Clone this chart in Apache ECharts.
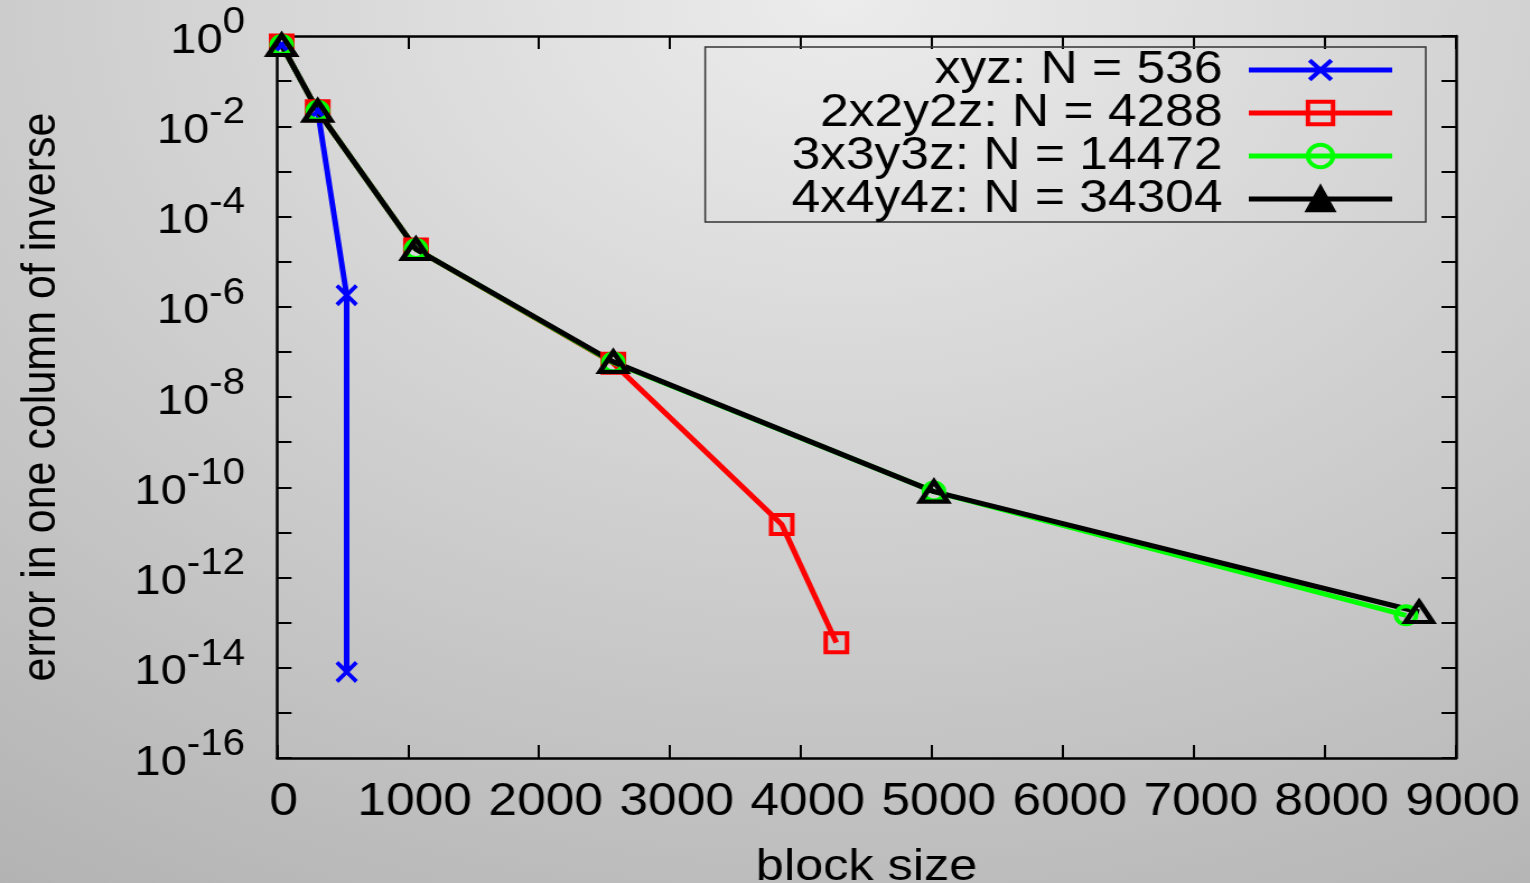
<!DOCTYPE html>
<html>
<head>
<meta charset="utf-8">
<script src="https://cdn.jsdelivr.net/npm/echarts@6/dist/echarts.min.js"></script>
<style>
html,body{margin:0;padding:0;width:1530px;height:883px;overflow:hidden;
background: radial-gradient(ellipse 1787px 1267px at 840px 0px, #ececec 0%, #a8a8a8 100%);}
/* the reference figure is stretched horizontally; reproduce that stretch */
#chart{width:1366px;height:883px;transform:scaleX(1.12);transform-origin:0 0;}
</style>
</head>
<body>
<div id="chart"></div>
<script>
// block size (x) and error (y) for each series
const xyzX   = [36, 311, 532, 532];
const xyzY   = [0.63, 0.022, 1.8e-6, 8.1e-15];
const r2X    = [36, 311, 1061, 2567, 3853, 4270];
const r2Y    = [0.63, 0.022, 1.9e-5, 5.6e-8, 1.5e-11, 3.6e-14];
const r3X    = [36, 311, 1061, 2567, 5015, 8618];
const r3Y    = [0.63, 0.022, 1.9e-5, 5.8e-8, 8.0e-11, 1.45e-13];
const r4X    = [36, 311, 1061, 2567, 5015, 8718];
const r4Y    = [0.63, 0.022, 1.9e-5, 6.0e-8, 8.0e-11, 1.72e-13];
const seriesNames = ['xyz: N = 536', '2x2y2z: N = 4288', '3x3y3z: N = 14472', '4x4y4z: N = 34304'];
const xTicks = [0, 1000, 2000, 3000, 4000, 5000, 6000, 7000, 8000, 9000];
const yTickExps = [0, -2, -4, -6, -8, -10, -12, -14, -16];
const xTitle = 'block size';
const yTitle = 'error in one column of inverse';

const FONT = "'Liberation Sans', Arial, Helvetica, sans-serif";
const pair = (xs, ys) => xs.map((x, i) => [x, ys[i]]);
const crossPath = 'path://M0,13L13,0L50,37L87,0L100,13L63,50L100,87L87,100L50,63L13,100L0,87L37,50Z';

const chart = echarts.init(document.getElementById('chart'), null, {renderer: 'canvas', width: 1366, height: 883});

const xAxisBase = {
  type: 'value', min: xTicks[0], max: xTicks[xTicks.length - 1], interval: 1000,
  splitLine: {show: false},
  axisLine: {show: true, onZero: false, lineStyle: {color: '#000', width: 2.5}},
  axisTick: {show: true, inside: true, length: 13, lineStyle: {color: '#000', width: 2}}
};
const yAxisBase = {
  type: 'log', logBase: 10, min: Math.pow(10, yTickExps[yTickExps.length - 1]), max: Math.pow(10, yTickExps[0]),
  interval: 1,
  splitLine: {show: false},
  axisLine: {show: true, onZero: false, lineStyle: {color: '#000', width: 2.5}},
  axisTick: {show: true, inside: true, length: 13, lineStyle: {color: '#000', width: 2}}
};

const option = {
  backgroundColor: 'transparent',
  animation: false,
  textStyle: {fontFamily: FONT},
  grid: {left: 247.3, top: 36, right: 66, bottom: 125, containLabel: false, outerBoundsMode: 'none'},
  xAxis: [
    Object.assign({}, xAxisBase, {
      position: 'bottom',
      name: xTitle, nameLocation: 'middle', nameGap: 87,
      nameTextStyle: {fontFamily: FONT, fontSize: 45, color: '#000'},
      axisLabel: {show: true, margin: 21, fontFamily: FONT, fontSize: 46, color: '#000', padding: [0, 0, 0, 12],
        formatter: v => xTicks.indexOf(v) >= 0 ? String(v) : ''}
    }),
    Object.assign({}, xAxisBase, {position: 'top', axisLabel: {show: false}})
  ],
  yAxis: [
    Object.assign({}, yAxisBase, {
      position: 'left',
      name: yTitle, nameLocation: 'middle', nameGap: 189, nameRotate: 90,
      nameTextStyle: {fontFamily: FONT, fontSize: 43, color: '#000'},
      axisLabel: {show: true, margin: 28.5, color: '#000', padding: [10, 0, 0, 0],
        formatter: v => {
          const e = Math.round(Math.log10(v));
          if (yTickExps.indexOf(e) < 0) return '';
          return '{a|10}{s|' + e + '}';
        },
        rich: {
          a: {fontFamily: FONT, fontSize: 42, color: '#000', lineHeight: 42},
          s: {fontFamily: FONT, fontSize: 36, color: '#000', lineHeight: 36, padding: [0, 0, 36, 0]}
        }
      }
    }),
    Object.assign({}, yAxisBase, {position: 'right', axisLabel: {show: false}})
  ],
  legend: {
    show: true, orient: 'vertical', align: 'right',
    right: 93, top: 47,
    itemWidth: 128, itemHeight: 28, itemGap: -3,
    padding: [0, 27.5, 0, 77],
    borderColor: '#333', borderWidth: 1.5, backgroundColor: 'transparent',
    lineStyle: {width: 5},
    itemStyle: {borderWidth: 4},
    textStyle: {fontFamily: FONT, fontSize: 46, color: '#000', padding: [0, 18.5, 0, 0]},
    data: [
      {name: seriesNames[0], itemStyle: {borderWidth: 0}},
      {name: seriesNames[1]},
      {name: seriesNames[2]},
      {name: seriesNames[3], itemStyle: {color: '#000'}}
    ]
  },
  series: [
    {
      name: seriesNames[0], type: 'line', data: pair(xyzX, xyzY),
      symbol: crossPath, symbolSize: [20, 22],
      lineStyle: {color: '#0000ff', width: 5},
      itemStyle: {color: '#0000ff'}
    },
    {
      name: seriesNames[1], type: 'line', data: pair(r2X, r2Y),
      symbol: 'rect', symbolSize: 19,
      lineStyle: {color: '#ff0000', width: 5},
      itemStyle: {color: 'rgba(0,0,0,0)', borderColor: '#ff0000', borderWidth: 4}
    },
    {
      name: seriesNames[2], type: 'line', data: pair(r3X, r3Y),
      symbol: 'circle', symbolSize: 18,
      lineStyle: {color: '#00ff00', width: 5},
      itemStyle: {color: 'rgba(0,0,0,0)', borderColor: '#00ff00', borderWidth: 4}
    },
    {
      name: seriesNames[3], type: 'line', data: pair(r4X, r4Y),
      symbol: 'triangle', symbolSize: [24, 20],
      lineStyle: {color: '#000000', width: 5},
      itemStyle: {color: 'rgba(0,0,0,0)', borderColor: '#000000', borderWidth: 4.5}
    }
  ]
};
chart.setOption(option);
</script>
</body>
</html>
